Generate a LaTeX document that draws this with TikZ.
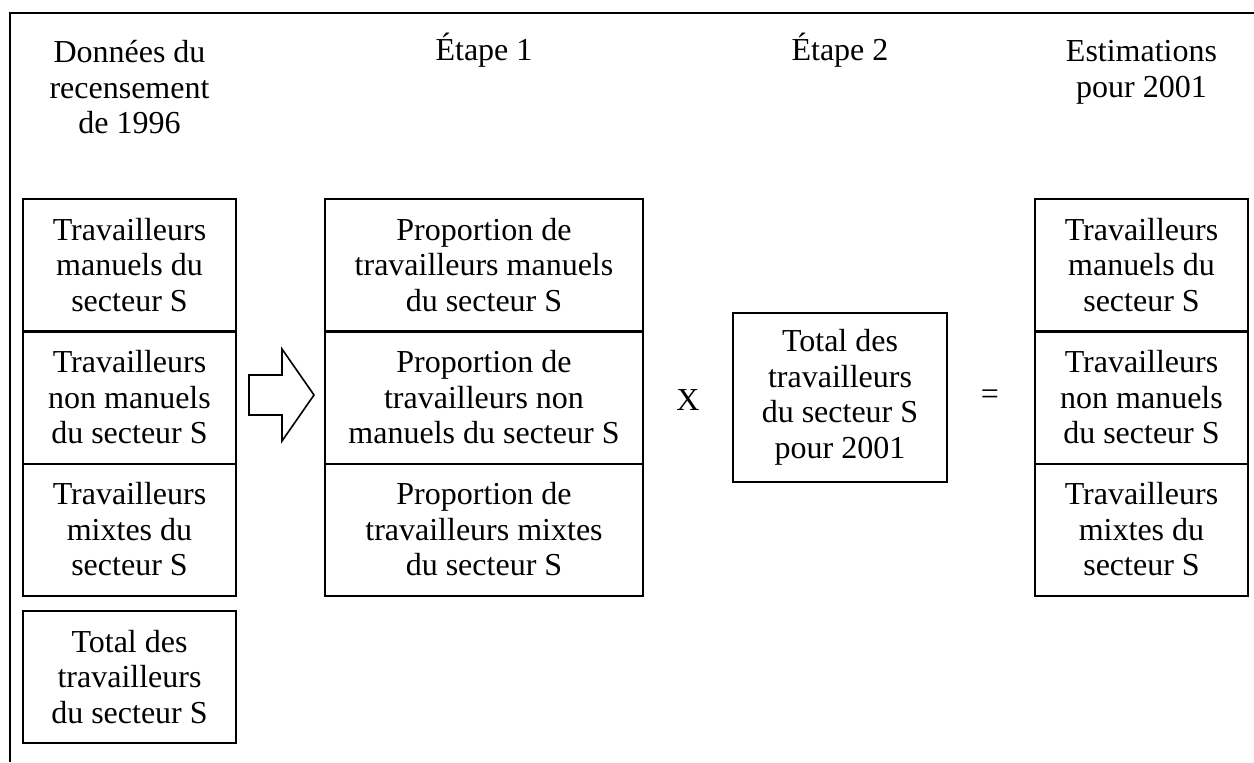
\documentclass[tikz,border=0pt]{standalone}
\usepackage{fontspec}
\setmainfont{Liberation Serif}
\begin{document}
\begin{tikzpicture}[x=0.5pt,y=-0.5pt,
  every node/.style={font=\fontsize{16}{17.75}\selectfont, align=center, inner sep=0pt},
  cell/.style={draw, line width=1pt, minimum height=66pt},
  lcell/.style={cell, minimum width=106.5pt},
  mcell/.style={cell, minimum width=159pt},
  hdr/.style={anchor=north}]
\useasboundingbox (0,0) rectangle (1254,762);
% frame (top and left edges only)
\coordinate (fa) at (10,762);
\coordinate (fb) at (10,13);
\coordinate (fc) at (1254,13);
\draw[line width=1pt] (fa) -- (fb) -- (fc);
% headers
\node[hdr] (h1) at (129.5,40) {Données du\\recensement\\de 1996};
\node[anchor=base] (h2) at (484,60) {Étape 1};
\node[anchor=base] (h3) at (840,60) {Étape 2};
\node[hdr] (h4) at (1141.5,40) {Estimations\\pour 2001};
% left stack
\node[lcell] (l1) at (129.5,265) {Travailleurs\\manuels du\\secteur S};
\node[lcell] (l2) at (129.5,397.5) {Travailleurs\\non manuels\\du secteur S};
\node[lcell] (l3) at (129.5,529.5) {Travailleurs\\mixtes du\\secteur S};
\node[lcell] (lt) at (129.5,677) {Total des\\travailleurs\\du secteur S};
% middle stack
\node[mcell] (m1) at (484,265) {Proportion de\\travailleurs manuels\\du secteur S};
\node[mcell] (m2) at (484,397.5) {Proportion de\\travailleurs non\\manuels du secteur S};
\node[mcell] (m3) at (484,529.5) {Proportion de\\travailleurs mixtes\\du secteur S};
% operators
\node (times) at (688,400) {X};
\node[draw, line width=1pt, minimum width=107pt, minimum height=84.5pt] (c) at (840,397.5) {Total des\\travailleurs\\du secteur S\\pour 2001};
\node (eq) at (990,397) {=};
% right stack
\node[lcell] (r1) at (1141.5,265) {Travailleurs\\manuels du\\secteur S};
\node[lcell] (r2) at (1141.5,397.5) {Travailleurs\\non manuels\\du secteur S};
\node[lcell] (r3) at (1141.5,529.5) {Travailleurs\\mixtes du\\secteur S};
% block arrow
\draw[line width=0.8pt, line join=miter] (249,375) -- (282,375) -- (282,349) -- (314,395) -- (282,441) -- (282,415) -- (249,415) -- cycle;
\end{tikzpicture}
\end{document}
